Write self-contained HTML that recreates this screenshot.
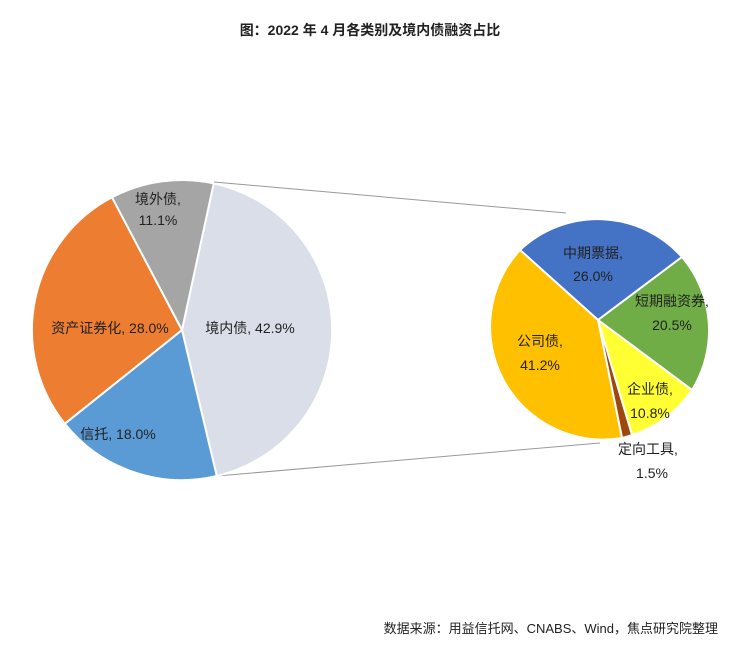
<!DOCTYPE html>
<html><head><meta charset="utf-8"><style>
body{margin:0;background:#fff;}
svg text{font-family:"Liberation Sans","Noto Sans CJK SC",sans-serif;}
</style></head><body>
<svg width="740" height="648" viewBox="0 0 740 648" xmlns="http://www.w3.org/2000/svg">
<rect width="740" height="648" fill="#fff"/>
<text x="370" y="35" text-anchor="middle" font-size="14" font-weight="bold" fill="#222">图：2022 年 4 月各类别及境内债融资占比</text>
<line x1="214" y1="182" x2="566" y2="213" stroke="#999" stroke-width="1"/>
<line x1="217" y1="476" x2="600" y2="443" stroke="#999" stroke-width="1"/>
<g stroke="#fff" stroke-width="2">
<path d="M182,330 L213.7,183.4 A150,150 0 0 1 216.8,476 Z" fill="#D9DEE8"/>
<path d="M182,330 L216.8,476 A150,150 0 0 1 64.8,423.7 Z" fill="#5B9BD5"/>
<path d="M182,330 L64.8,423.7 A150,150 0 0 1 112,197.3 Z" fill="#ED7D31"/>
<path d="M182,330 L112,197.3 A150,150 0 0 1 213.7,183.4 Z" fill="#A5A5A5"/>
</g>
<g stroke="#fff" stroke-width="2">
<path d="M598,320 L520,250 A113,113 0 0 1 682,257 Z" fill="#4472C4"/>
<path d="M598,320 L682,257 A113,113 0 0 1 692,390 Z" fill="#70AD47"/>
<path d="M598,320 L692,390 A113,113 0 0 1 632,435 Z" fill="#FFFF33"/>
<path d="M598,320 L632,435 A113,113 0 0 1 622,438 Z" fill="#9E480E"/>
<path d="M598,320 L622,438 A113,113 0 0 1 520,250 Z" fill="#FFC000"/>
</g>
<g font-size="14" fill="#222" text-anchor="middle">
<text x="158" y="204">境外债,</text><text x="158" y="225">11.1%</text>
<text x="110" y="333">资产证券化, 28.0%</text>
<text x="118" y="439">信托, 18.0%</text>
<text x="250" y="333">境内债, 42.9%</text>
<text x="593" y="258">中期票据,</text><text x="593" y="281">26.0%</text>
<text x="672" y="306">短期融资券,</text><text x="672" y="330">20.5%</text>
<text x="540" y="346">公司债,</text><text x="540" y="370">41.2%</text>
<text x="650" y="394">企业债,</text><text x="650" y="418">10.8%</text>
<text x="648" y="454">定向工具,</text><text x="652" y="478">1.5%</text>
</g>
<text x="718" y="633" text-anchor="end" font-size="13" fill="#222">数据来源：用益信托网、CNABS、Wind，焦点研究院整理</text>
</svg>
</body></html>
